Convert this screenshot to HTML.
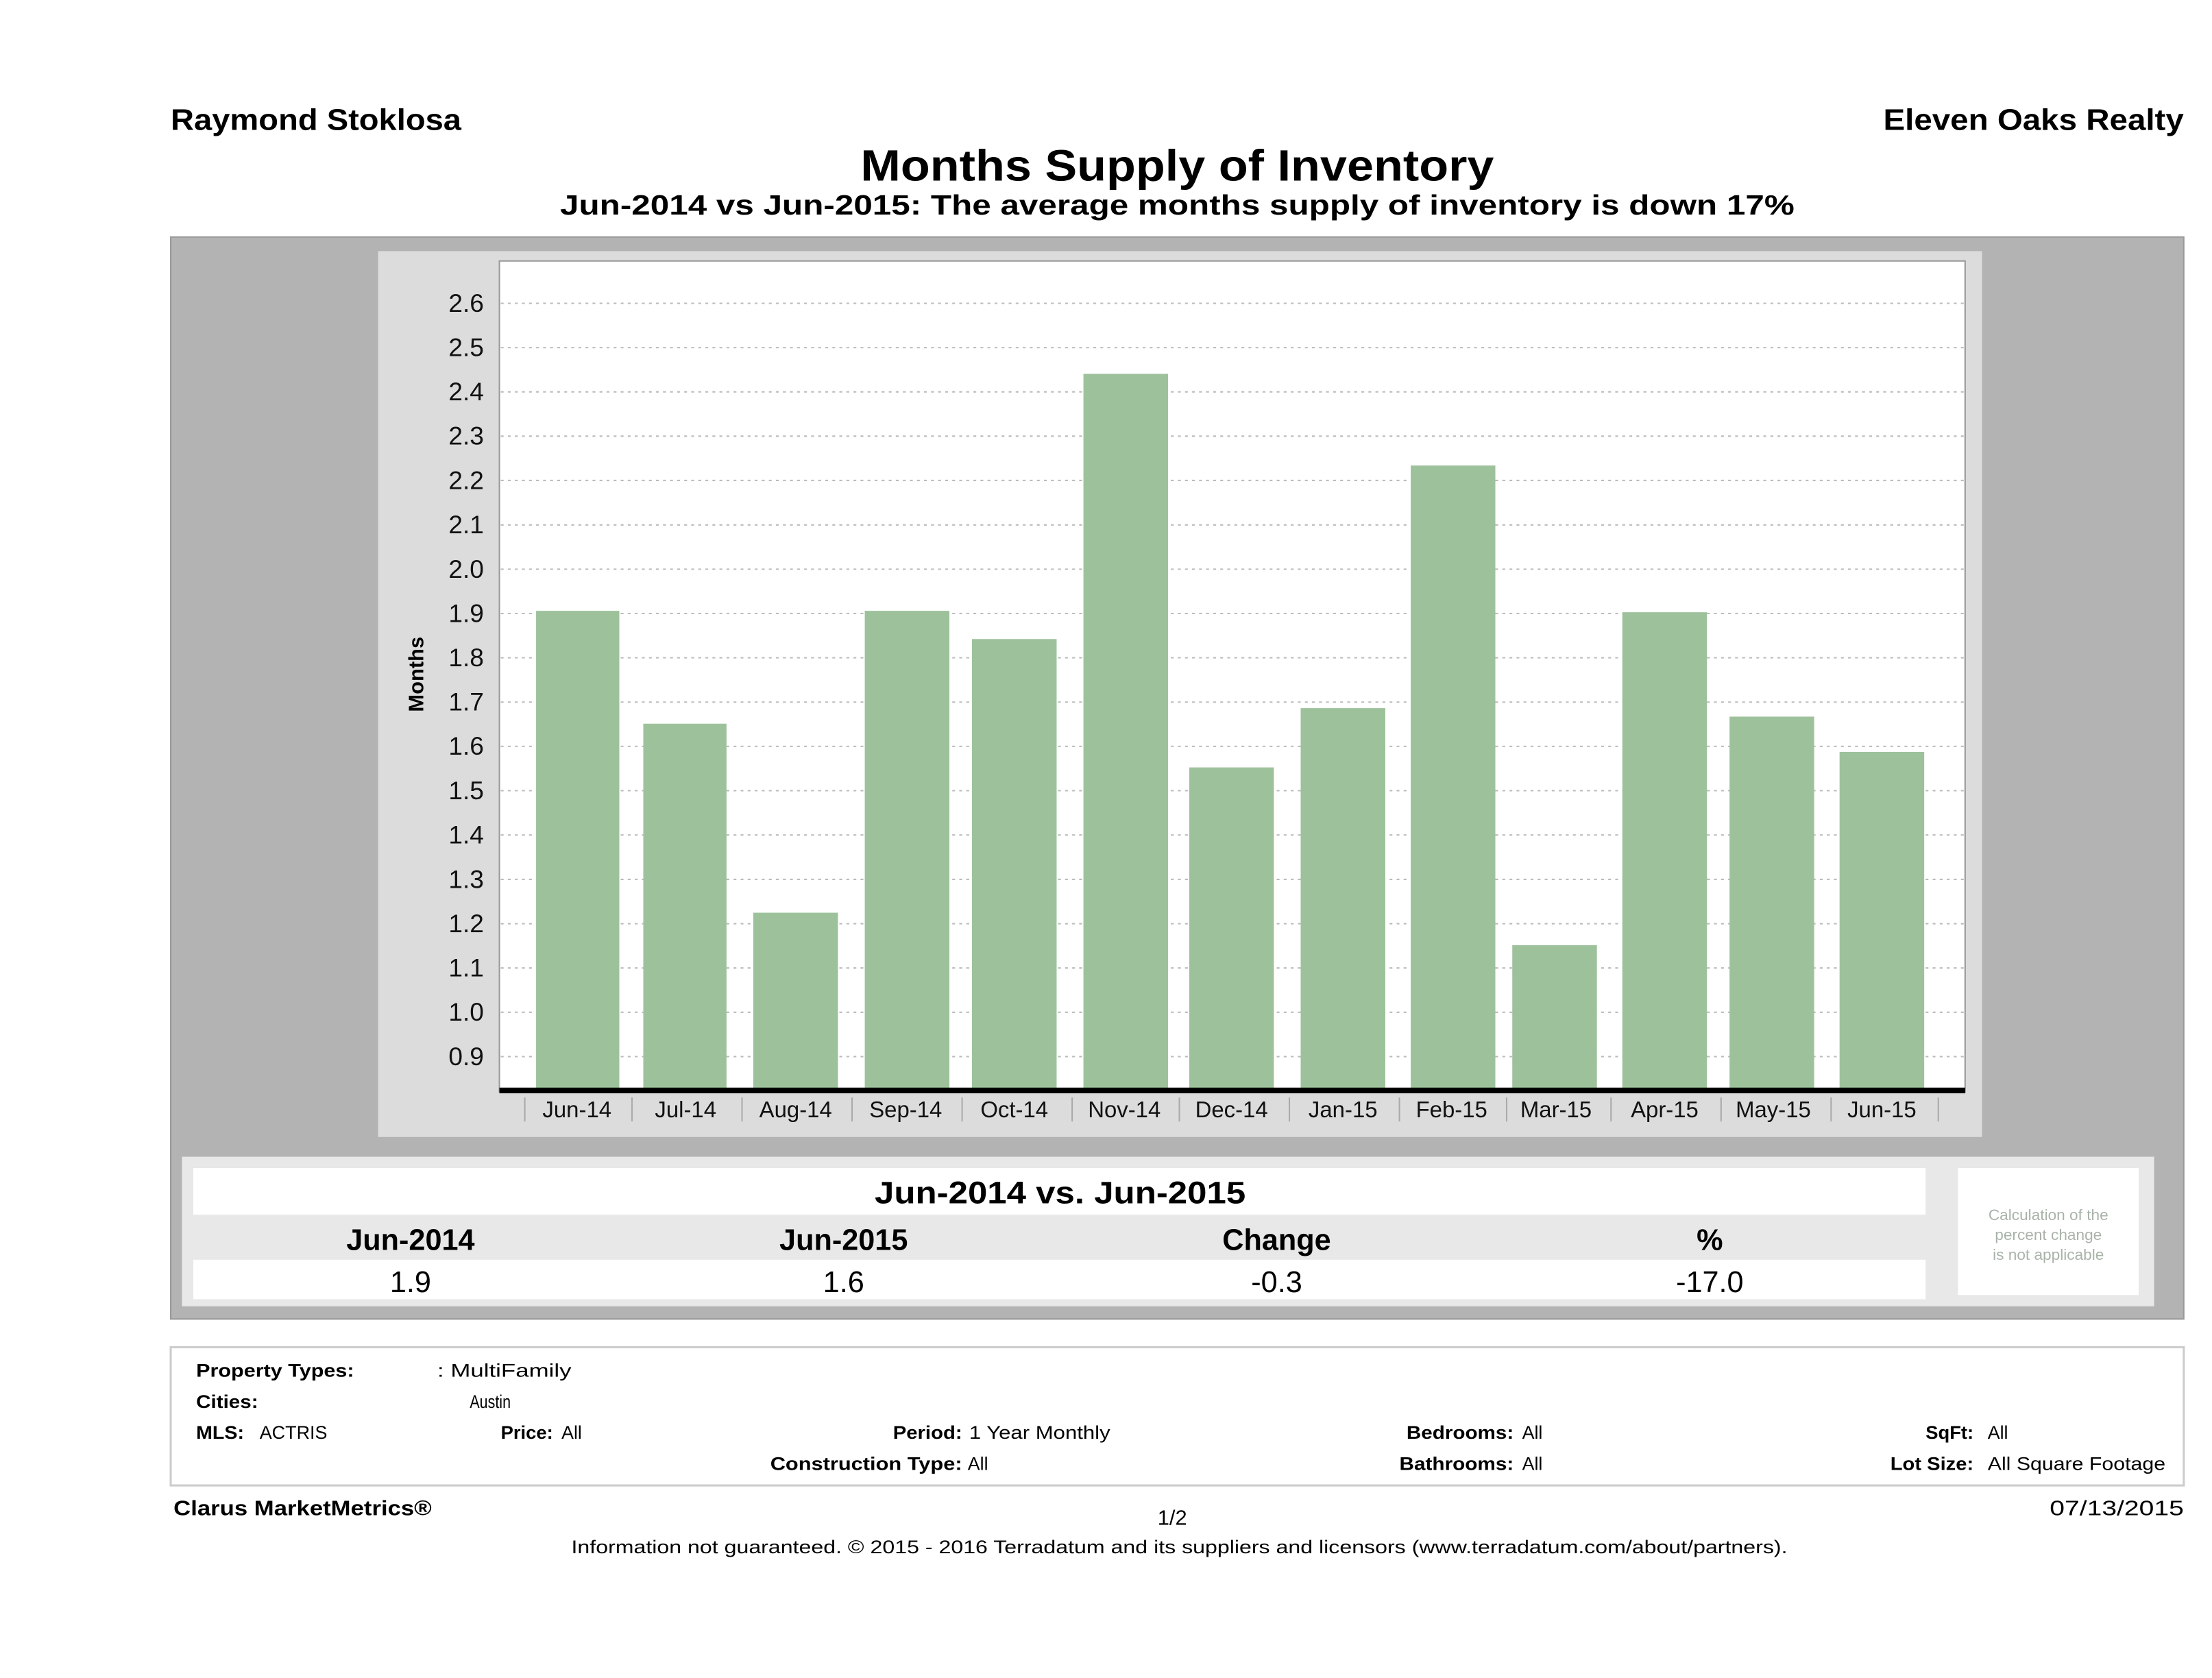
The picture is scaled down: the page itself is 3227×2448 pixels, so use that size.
<!DOCTYPE html>
<html><head><meta charset="utf-8"><style>html,body{margin:0;padding:0;background:#fff}svg{display:block}text{font-family:"Liberation Sans",sans-serif}</style></head>
<body>
<svg width="3227" height="2448" viewBox="0 0 1568 1189.5" xmlns="http://www.w3.org/2000/svg">
<rect width="1568" height="1189.5" fill="#fff"/>
<text x="121" y="92" font-size="21" font-weight="bold" textLength="206" lengthAdjust="spacingAndGlyphs">Raymond Stoklosa</text>
<text x="1335" y="92" font-size="21" font-weight="bold" textLength="213" lengthAdjust="spacingAndGlyphs">Eleven Oaks Realty</text>
<text x="610" y="128" font-size="31" font-weight="bold" textLength="449" lengthAdjust="spacingAndGlyphs">Months Supply of Inventory</text>
<text x="397" y="152" font-size="20" font-weight="bold" textLength="875" lengthAdjust="spacingAndGlyphs">Jun-2014 vs Jun-2015: The average months supply of inventory is down 17%</text>
<rect x="121" y="168" width="1427" height="767" fill="#b3b3b3" stroke="#999" stroke-width="1"/>
<rect x="268" y="178" width="1137" height="628" fill="#dcdcdc"/>
<rect x="354" y="185" width="1039" height="589" fill="#fff" stroke="#999" stroke-width="1"/>
<g stroke="#bbb" stroke-width="1" stroke-dasharray="2,3">
<line x1="355" x2="1392" y1="215" y2="215"/><line x1="355" x2="1392" y1="246.4" y2="246.4"/><line x1="355" x2="1392" y1="277.8" y2="277.8"/><line x1="355" x2="1392" y1="309.2" y2="309.2"/><line x1="355" x2="1392" y1="340.6" y2="340.6"/><line x1="355" x2="1392" y1="372.1" y2="372.1"/><line x1="355" x2="1392" y1="403.5" y2="403.5"/><line x1="355" x2="1392" y1="434.9" y2="434.9"/><line x1="355" x2="1392" y1="466.3" y2="466.3"/><line x1="355" x2="1392" y1="497.7" y2="497.7"/><line x1="355" x2="1392" y1="529.1" y2="529.1"/><line x1="355" x2="1392" y1="560.5" y2="560.5"/><line x1="355" x2="1392" y1="591.9" y2="591.9"/><line x1="355" x2="1392" y1="623.4" y2="623.4"/><line x1="355" x2="1392" y1="654.8" y2="654.8"/><line x1="355" x2="1392" y1="686.2" y2="686.2"/><line x1="355" x2="1392" y1="717.6" y2="717.6"/><line x1="355" x2="1392" y1="749" y2="749"/>
</g>
<g font-size="18" text-anchor="end" fill="#111">
<text x="343" y="221">2.6</text><text x="343" y="252.4">2.5</text><text x="343" y="283.8">2.4</text><text x="343" y="315.2">2.3</text><text x="343" y="346.6">2.2</text><text x="343" y="378.1">2.1</text><text x="343" y="409.5">2.0</text><text x="343" y="440.9">1.9</text><text x="343" y="472.3">1.8</text><text x="343" y="503.7">1.7</text><text x="343" y="535.1">1.6</text><text x="343" y="566.5">1.5</text><text x="343" y="597.9">1.4</text><text x="343" y="629.4">1.3</text><text x="343" y="660.8">1.2</text><text x="343" y="692.2">1.1</text><text x="343" y="723.6">1.0</text><text x="343" y="755">0.9</text>
</g>
<text transform="translate(300,478) rotate(-90)" font-size="15" font-weight="bold" text-anchor="middle">Months</text>
<g fill="#9dc29b">
<rect x="380" y="433" width="59" height="340"/><rect x="456" y="513" width="59" height="260"/><rect x="534" y="647" width="60" height="126"/><rect x="613" y="433" width="60" height="340"/><rect x="689" y="453" width="60" height="320"/><rect x="768" y="265" width="60" height="508"/><rect x="843" y="544" width="60" height="229"/><rect x="922" y="502" width="60" height="271"/><rect x="1000" y="330" width="60" height="443"/><rect x="1072" y="670" width="60" height="103"/><rect x="1150" y="434" width="60" height="339"/><rect x="1226" y="508" width="60" height="265"/><rect x="1304" y="533" width="60" height="240"/>
</g>
<rect x="354" y="771" width="1039" height="4" fill="#000"/>
<g stroke="#aaa" stroke-width="1">
<line x1="372" x2="372" y1="778" y2="795"/><line x1="448" x2="448" y1="778" y2="795"/><line x1="526" x2="526" y1="778" y2="795"/><line x1="604" x2="604" y1="778" y2="795"/><line x1="682" x2="682" y1="778" y2="795"/><line x1="760" x2="760" y1="778" y2="795"/><line x1="836" x2="836" y1="778" y2="795"/><line x1="914" x2="914" y1="778" y2="795"/><line x1="992" x2="992" y1="778" y2="795"/><line x1="1068" x2="1068" y1="778" y2="795"/><line x1="1142" x2="1142" y1="778" y2="795"/><line x1="1220" x2="1220" y1="778" y2="795"/><line x1="1298" x2="1298" y1="778" y2="795"/><line x1="1374" x2="1374" y1="778" y2="795"/>
</g>
<g font-size="16" text-anchor="middle" fill="#111">
<text x="409" y="792">Jun-14</text><text x="486" y="792">Jul-14</text><text x="564" y="792">Aug-14</text><text x="642" y="792">Sep-14</text><text x="719" y="792">Oct-14</text><text x="797" y="792">Nov-14</text><text x="873" y="792">Dec-14</text><text x="952" y="792">Jan-15</text><text x="1029" y="792">Feb-15</text><text x="1103" y="792">Mar-15</text><text x="1180" y="792">Apr-15</text><text x="1257" y="792">May-15</text><text x="1334" y="792">Jun-15</text>
</g>
<rect x="129" y="820" width="1398" height="106" fill="#e8e8e8"/>
<rect x="137" y="828" width="1228" height="33" fill="#fff"/>
<rect x="137" y="893" width="1228" height="28" fill="#fff"/>
<text x="620" y="853" font-size="22" font-weight="bold" textLength="263" lengthAdjust="spacingAndGlyphs">Jun-2014 vs. Jun-2015</text>
<g font-size="21" font-weight="bold" text-anchor="middle">
<text x="291" y="886">Jun-2014</text><text x="598" y="886">Jun-2015</text><text x="905" y="886">Change</text><text x="1212" y="886">%</text>
</g>
<g font-size="21" text-anchor="middle">
<text x="291" y="916">1.9</text><text x="598" y="916">1.6</text><text x="905" y="916">-0.3</text><text x="1212" y="916">-17.0</text>
</g>
<rect x="1388" y="828" width="128" height="90" fill="#fff"/>
<g font-size="11" text-anchor="middle" fill="#a9b3a9">
<text x="1452" y="865">Calculation of the</text><text x="1452" y="879">percent change</text><text x="1452" y="893">is not applicable</text>
</g>
<rect x="121" y="955" width="1427" height="98" fill="#fff" stroke="#ccc" stroke-width="1.5"/>
<g font-size="13" lengthAdjust="spacingAndGlyphs">
<text x="139" y="976" font-weight="bold" textLength="112" lengthAdjust="spacingAndGlyphs">Property Types:</text>
<text x="310" y="976" textLength="95" lengthAdjust="spacingAndGlyphs">: MultiFamily</text>
<text x="139" y="998" font-weight="bold" textLength="44" lengthAdjust="spacingAndGlyphs">Cities:</text>
<text x="333" y="998" textLength="29" lengthAdjust="spacingAndGlyphs">Austin</text>
<text x="139" y="1020" font-weight="bold" textLength="34" lengthAdjust="spacingAndGlyphs">MLS:</text>
<text x="184" y="1020" textLength="48" lengthAdjust="spacingAndGlyphs">ACTRIS</text>
<text x="355" y="1020" font-weight="bold" textLength="37" lengthAdjust="spacingAndGlyphs">Price:</text>
<text x="398" y="1020">All</text>
<text x="633" y="1020" font-weight="bold" textLength="49" lengthAdjust="spacingAndGlyphs">Period:</text>
<text x="687" y="1020" textLength="100" lengthAdjust="spacingAndGlyphs">1 Year Monthly</text>
<text x="997" y="1020" font-weight="bold" textLength="76" lengthAdjust="spacingAndGlyphs">Bedrooms:</text>
<text x="1079" y="1020">All</text>
<text x="1365" y="1020" font-weight="bold" textLength="34" lengthAdjust="spacingAndGlyphs">SqFt:</text>
<text x="1409" y="1020">All</text>
<text x="546" y="1042" font-weight="bold" textLength="136" lengthAdjust="spacingAndGlyphs">Construction Type:</text>
<text x="686" y="1042">All</text>
<text x="992" y="1042" font-weight="bold" textLength="81" lengthAdjust="spacingAndGlyphs">Bathrooms:</text>
<text x="1079" y="1042">All</text>
<text x="1340" y="1042" font-weight="bold" textLength="59" lengthAdjust="spacingAndGlyphs">Lot Size:</text>
<text x="1409" y="1042" textLength="126" lengthAdjust="spacingAndGlyphs">All Square Footage</text>
</g>
<text x="123" y="1074" font-size="15" font-weight="bold" textLength="183" lengthAdjust="spacingAndGlyphs">Clarus MarketMetrics®</text>
<text x="831" y="1081" font-size="15" text-anchor="middle">1/2</text>
<text x="1453" y="1074" font-size="15" textLength="95" lengthAdjust="spacingAndGlyphs">07/13/2015</text>
<text x="405" y="1101" font-size="13" textLength="862" lengthAdjust="spacingAndGlyphs">Information not guaranteed. © 2015 - 2016 Terradatum and its suppliers and licensors (www.terradatum.com/about/partners).</text>
</svg>
</body></html>
